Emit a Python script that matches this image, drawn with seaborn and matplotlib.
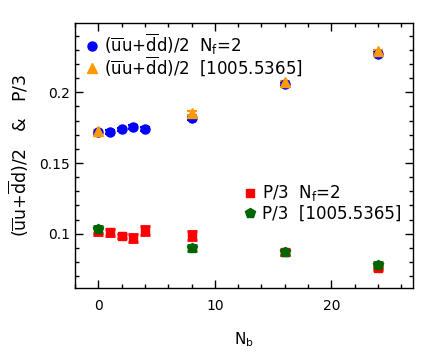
import matplotlib
matplotlib.use("Agg")
import matplotlib.pyplot as plt
import seaborn as sns
from matplotlib.lines import Line2D
from matplotlib.ticker import MultipleLocator

nb_nf2 = [0, 1, 2, 3, 4, 8, 16, 24]
cond_nf2 = [0.1719, 0.1720, 0.1738, 0.1755, 0.1740, 0.1820, 0.2057, 0.2274]
cond_nf2_err = [0.0012, 0.0012, 0.0012, 0.0012, 0.0012, 0.0015, 0.0015, 0.0015]
p_nf2 = [0.1016, 0.1010, 0.0986, 0.0970, 0.1023, 0.0988, 0.0870, 0.0757]
p_nf2_err = [0.0025, 0.0025, 0.0015, 0.0030, 0.0030, 0.0030, 0.0020, 0.0015]

nb_ref = [0, 8, 16, 24]
cond_ref = [0.1725, 0.1854, 0.2070, 0.2290]
cond_ref_err = [0.0010, 0.0012, 0.0012, 0.0012]
p_ref = [0.1033, 0.0900, 0.0868, 0.0780]
p_ref_err = [0.0025, 0.0020, 0.0020, 0.0020]

sns.set_style("ticks")
plt.rcParams["font.family"] = ["DejaVu Sans"]
plt.rcParams["mathtext.fontset"] = "dejavusans"
for k in ["text.color", "axes.labelcolor", "xtick.color", "ytick.color", "axes.edgecolor"]:
    plt.rcParams[k] = "black"

fig, ax = plt.subplots(figsize=(4.36, 3.54), dpi=100)
fig.subplots_adjust(left=0.172, right=0.947, top=0.935, bottom=0.186)

cond = r"$(\overline{\mathrm{u}}\mathrm{u}{+}\overline{\mathrm{d}}\mathrm{d})/2$"

series = [
    (nb_nf2, cond_nf2, cond_nf2_err, "o", "#0000ff", 6.5, 1.5, cond + r"  N$_\mathrm{f}$=2"),
    (nb_ref, cond_ref, cond_ref_err, "^", "#ff9900", 6.5, 1.5, cond + "  [1005.5365]"),
    (nb_nf2, p_nf2, p_nf2_err, "s", "#ff0000", 5.5, 2, r"P/3  N$_\mathrm{f}$=2"),
    (nb_ref, p_ref, p_ref_err, "p", "#006400", 7, 2, "P/3  [1005.5365]"),
]
handles = []
for x, y, e, m, c, ms, lw, lab in series:
    ax.errorbar(x, y, yerr=e, fmt=m, color=c, ms=ms, capsize=3.5,
                elinewidth=lw, capthick=lw)
    handles.append(Line2D([], [], marker=m, color=c, ls="none", ms=ms, label=lab))

leg1 = ax.legend(handles=handles[:2], loc="upper left", frameon=False,
                 fontsize=12, handletextpad=0.2, handlelength=1.0,
                 borderaxespad=0.15, labelspacing=-0.15)
ax.add_artist(leg1)
ax.legend(handles=handles[2:], loc="center left", bbox_to_anchor=(0.45, 0.32),
          frameon=False, fontsize=12, handletextpad=0.2, handlelength=1.0,
          labelspacing=0.1)

ax.set_xlim(-2, 27)
ax.set_ylim(0.0615, 0.249)
ax.xaxis.set_major_locator(MultipleLocator(10))
ax.xaxis.set_minor_locator(MultipleLocator(2))
ax.yaxis.set_minor_locator(MultipleLocator(0.01))
ax.set_yticks([0.1, 0.15, 0.2])
ax.set_yticklabels(["0.1", "0.15", "0.2"])
ax.tick_params(which="both", direction="in", top=True, right=True, labelsize=10)
ax.tick_params(which="major", length=6, width=1)
ax.tick_params(which="minor", length=3, width=1)
ax.tick_params(axis="x", pad=8)
for s in ax.spines.values():
    s.set_linewidth(1)

ax.set_xlabel(r"N$_\mathrm{b}$", fontsize=11, labelpad=12)
ax.set_ylabel(cond + "   &   P/3", fontsize=12.5, labelpad=6)

plt.savefig("out.png", dpi=100)
